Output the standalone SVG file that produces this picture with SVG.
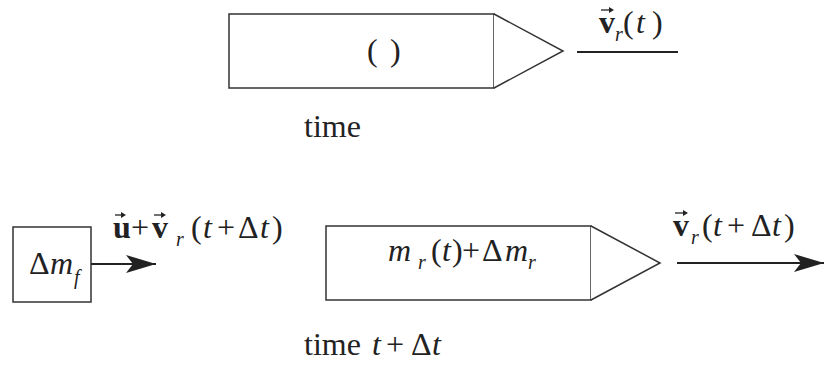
<svg xmlns="http://www.w3.org/2000/svg" width="825" height="368" viewBox="0 0 825 368" font-family="Liberation Serif, Tinos, Times New Roman, Times, Nimbus Roman, FreeSerif, Noto Serif, DejaVu Serif, serif">
<style>
.box{fill:#fff;stroke:#333;stroke-width:1.5}
.ln{stroke:#222;stroke-width:2.2;fill:none}
.vec{stroke:#222;stroke-width:1.3;fill:none}
.vh{fill:#222}
.t{font-size:32px;fill:#222}
.b{font-weight:bold}
.i{font-style:italic}
.s{font-size:20px;font-style:italic}
</style>
<defs>
<marker id="ah" viewBox="-31 -10 32 20" refX="0" refY="0" markerWidth="32" markerHeight="20" markerUnits="userSpaceOnUse" orient="auto">
<path d="M0,0 L-30,-9 L-23,0 L-30,9 Z" fill="#222"/>
</marker>
</defs>

<g id="rocket-t">
<rect class="box" x="229" y="14" width="265" height="74"/>
<path class="box" d="M494,14 L563,51 L494,88"/>
<text class="t" x="367" y="61">(</text><text class="t" x="390" y="61">)</text>
</g>
<g id="label-time">
<text class="t" x="304" y="137">time</text>
</g>

<g id="fuel">
<rect class="box" x="13" y="227" width="78" height="75"/>
<text class="t" x="29" y="274">Δ</text><text class="t i" x="50" y="274">m</text><text class="t s" x="74" y="284">f</text>
</g>

<g id="rocket-tdt">
<rect class="box" x="326" y="226" width="265" height="74"/>
<path class="box" d="M591,226 L660,263 L591,300"/>
<text class="t i" x="388" y="261">m</text><text class="t s" x="418" y="269">r</text>
<text class="t" x="431" y="261">(</text><text class="t i" x="442" y="261">t</text><text class="t" x="452" y="261">)</text>
<text class="t" x="462" y="261">+</text><text class="t" x="482" y="261">Δ</text><text class="t i" x="505" y="261">m</text><text class="t s" x="528" y="269">r</text>
</g>
<g id="label-time-dt">
<text class="t" x="304" y="355">time</text><text class="t i" x="372" y="355">t</text><text class="t" x="386" y="355">+</text><text class="t" x="411" y="355">Δ</text><text class="t i" x="432" y="355">t</text>
</g>

<g id="connectors">
<line class="ln" x1="577" y1="52" x2="678" y2="52"/>
<line class="ln" x1="91" y1="264" x2="156" y2="264" marker-end="url(#ah)"/>
<line class="ln" x1="677" y1="263" x2="824" y2="263" marker-end="url(#ah)"/>
</g>

<g id="label-vr-t">
<text class="t b" x="599" y="33">v</text><text class="t s" x="615" y="41">r</text>
<text class="t" x="623" y="33">(</text><text class="t i" x="636" y="33">t</text><text class="t" x="652" y="33">)</text>
<path class="vec" d="M601,10 H612"/><path class="vh" d="M614,10 L609,7 L609,13 Z"/>
</g>

<g id="label-u-vr">
<text class="t b" x="113" y="238">u</text><text class="t" x="131" y="238">+</text><text class="t b" x="152" y="238">v</text><text class="t s" x="176" y="246">r</text>
<text class="t" x="191" y="238">(</text><text class="t i" x="203" y="238">t</text><text class="t" x="217" y="238">+</text><text class="t" x="238" y="238">Δ</text><text class="t i" x="260" y="238">t</text><text class="t" x="272" y="238">)</text>
<path class="vec" d="M115,215 H124"/><path class="vh" d="M126,215 L121,212 L121,218 Z"/>
<path class="vec" d="M154,215 H164"/><path class="vh" d="M166,215 L161,212 L161,218 Z"/>
</g>

<g id="label-vr-tdt">
<text class="t b" x="673" y="236">v</text><text class="t s" x="691" y="244">r</text>
<text class="t" x="702" y="236">(</text><text class="t i" x="713" y="236">t</text><text class="t" x="727" y="236">+</text><text class="t" x="751" y="236">Δ</text><text class="t i" x="772" y="236">t</text><text class="t" x="784" y="236">)</text>
<path class="vec" d="M675,213 H686"/><path class="vh" d="M688,213 L683,210 L683,216 Z"/>
</g>
</svg>
